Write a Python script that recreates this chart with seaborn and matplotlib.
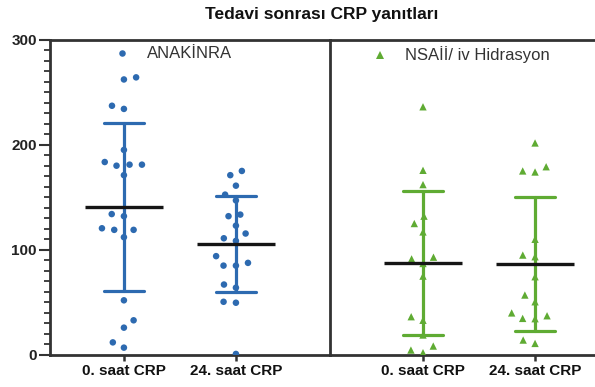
import matplotlib
matplotlib.use("Agg")
import matplotlib.pyplot as plt
import numpy as np
import pandas as pd
import seaborn as sns
from matplotlib.lines import Line2D
from matplotlib.ticker import MultipleLocator

# Time points on the x axis
times = ["0. saat CRP", "24. saat CRP"]

# CRP values (mg/L) per patient, Anakinra group
anakinra_0h = [264, 262, 234, 237, 195, 181, 180, 183.5, 181, 171, 132, 134,
               119, 119, 120.5, 112, 52, 33, 26, 12, 7]
anakinra_24h = [175, 171, 161, 152.5, 147, 132, 133.5, 123, 111, 115.5, 108.5,
                94, 87.6, 85, 85, 67, 64, 50.6, 49.7, 1]

# CRP values (mg/L) per patient, NSAID / iv hydration group
nsai_0h = [236, 175.6, 162, 132, 125, 117, 91.4, 93, 87, 75, 33, 36.4, 19,
           8.5, 2.2, 4.7]
nsai_24h = [201.6, 174, 175, 179, 110, 93.4, 95, 74.4, 57, 50.6, 34.8, 40,
            34.5, 37.3, 11, 14.2]

group_names = ["ANAKİNRA", "NSAİİ/ iv Hidrasyon"]
title = "Tedavi sonrası CRP yanıtları"

blue = "#2d6ab0"
green = "#5fab33"
spine_col = "#333333"


def long_frame(v0, v24):
    return pd.DataFrame({
        "time": [times[0]] * len(v0) + [times[1]] * len(v24),
        "crp": list(v0) + list(v24),
    })


sns.set_theme(style="white")
plt.rcParams["font.family"] = ["Liberation Sans", "DejaVu Sans"]

W, H = 595, 387
fig = plt.figure(figsize=(W / 100, H / 100), dpi=100)
y0, y1 = 355, 39.5
axL = fig.add_axes([50 / W, (H - y0) / H, 280 / W, (y0 - y1) / H])
axR = fig.add_axes([330 / W, (H - y0) / H, 265 / W, (y0 - y1) / H], sharey=axL)
axR.patch.set_visible(False)

panels = [
    (axL, long_frame(anakinra_0h, anakinra_24h), blue, "o", (-0.66, 1.84), 0.2348),
    (axR, long_frame(nsai_0h, nsai_24h), green, "^", (-0.83, 1.535), 0.165),
]

swarms = []
for (ax, df, col, mk, xlim, lx), name in zip(panels, group_names):
    # SD error bars around the mean
    sns.pointplot(data=df, x="time", y="crp", order=times, errorbar="sd",
                  color=col, marker="none", linestyle="none", capsize=0.36,
                  err_kws={"linewidth": 2.3}, ax=ax, zorder=2)
    # individual patients
    n_before = len(ax.collections)
    sns.swarmplot(data=df, x="time", y="crp", order=times, color=col,
                  marker=mk, size=8.5, linewidth=0, ax=ax, zorder=3)
    swarms.extend((c, mk) for c in ax.collections[n_before:])
    # group mean
    sns.pointplot(data=df, x="time", y="crp", order=times, errorbar=None,
                  color="#151515", marker="_", markersize=56,
                  markeredgewidth=2.4, linestyle="none", ax=ax, zorder=4)

    ax.set_xlim(*xlim)
    ax.set_ylim(0, 300)
    ax.set_xlabel("")
    ax.set_ylabel("")

    handle = Line2D([], [], linestyle="none", marker=mk, color=col,
                    markersize=4.7 if mk == "o" else 5.6, markeredgewidth=0)
    ax.legend(handles=[handle], labels=[name], loc="upper left",
              bbox_to_anchor=(lx, 0.978), frameon=False, borderpad=0,
              borderaxespad=0, handlelength=0.8, handletextpad=1.1,
              prop={"size": 12}, labelcolor="#333333")

    for s in ax.spines.values():
        s.set_color(spine_col)
        s.set_linewidth(2.0)
    ax.tick_params(axis="x", length=4, width=1.8, color=spine_col, pad=2.5,
                   labelsize=11, bottom=True)
    for t in ax.get_xticklabels():
        t.set_fontweight("bold")
        t.set_color("#111111")

# y axis on the left panel only
axL.yaxis.set_major_locator(MultipleLocator(100))
axL.yaxis.set_minor_locator(MultipleLocator(10))
axL.tick_params(axis="y", which="major", length=8, width=1.5,
                color=spine_col, pad=1.5, labelsize=11, left=True)
axL.tick_params(axis="y", which="minor", length=4.5, width=1.3,
                color=spine_col, left=True)
for t in axL.get_yticklabels():
    t.set_fontweight("bold")
    t.set_color("#222222")

axR.spines["right"].set_visible(False)
axR.spines["left"].set_visible(False)
axR.tick_params(axis="y", which="both", left=False, labelleft=False)

fig.text(322 / W, 1 - 14 / H, title, ha="center", va="center",
         fontsize=12.5, fontweight="bold", color="#111111")

# lay the swarms out with generous spacing, then shrink the markers
fig.canvas.draw()
for coll, mk in swarms:
    if "draw" in coll.__dict__:
        del coll.draw
    coll.set_sizes([22 if mk == "o" else 28] * len(coll.get_offsets()))

fig.savefig("out.png", dpi=100)
